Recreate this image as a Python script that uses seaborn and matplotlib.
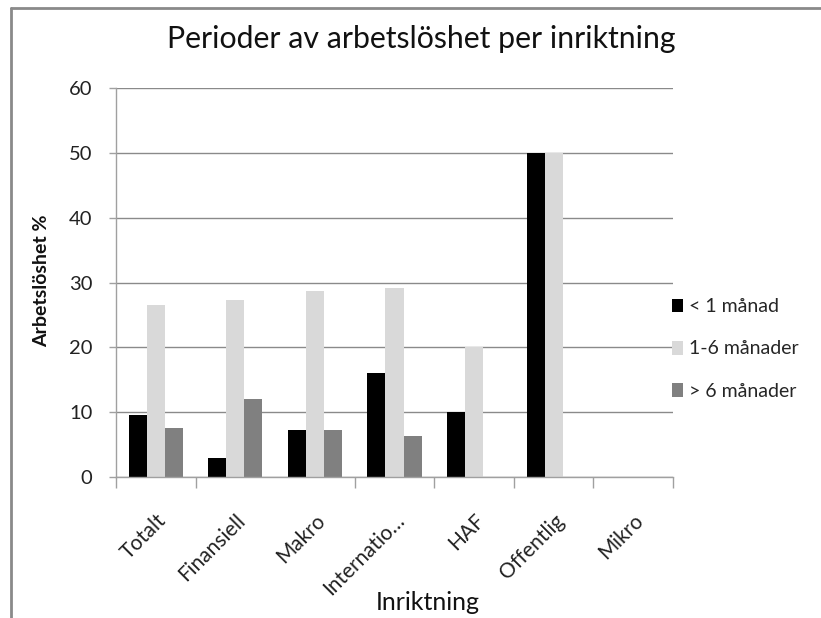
import matplotlib
matplotlib.use("Agg")
import matplotlib.pyplot as plt
import seaborn as sns
import pandas as pd
import numpy as np
from matplotlib.lines import Line2D
from matplotlib.patches import Patch

categories = ["Totalt", "Finansiell", "Makro", "Internatio…", "HAF", "Offentlig", "Mikro"]
series_names = ["< 1 månad", "1-6 månader", "> 6 månader"]
under_1 = [9.5, 3.0, 7.3, 16.1, 10.0, 50.0, 0.0]
one_to_six = [26.6, 27.3, 28.7, 29.1, 20.0, 50.0, 0.0]
over_6 = [7.6, 12.1, 7.3, 6.4, 0.0, 0.0, 0.0]
colors = ["#000000", "#d9d9d9", "#808080"]
yticks = [0, 10, 20, 30, 40, 50, 60]

rows = []
for name, vals in zip(series_names, [under_1, one_to_six, over_6]):
    for c, v in zip(categories, vals):
        rows.append({"Inriktning": c, "Serie": name, "Värde": v})
df = pd.DataFrame(rows)

sns.set_theme(style="white")
plt.rcParams["font.family"] = ["Lato", "DejaVu Sans"]

W, H = 821, 618
fig = plt.figure(figsize=(W / 100, H / 100), dpi=100)
L, R, T, B = 116, 673, 88, 477
ax = fig.add_axes([L / W, 1 - B / H, (R - L) / W, (B - T) / H])

sns.barplot(data=df, x="Inriktning", y="Värde", hue="Serie", order=categories,
            hue_order=series_names, palette=colors, width=0.68, gap=0,
            linewidth=0, edgecolor="none", errorbar=None, ax=ax, legend=False)

ax.set_xlim(-0.5, len(categories) - 0.5)
ax.set_ylim(0, 60)
ax.set_yticks(yticks)
ax.set_yticklabels([str(t) for t in yticks], fontsize=14.5, color="#222222")
ax.yaxis.grid(True, color="#8a8a8a", linewidth=1)
ax.set_axisbelow(True)
for s in ["top", "right"]:
    ax.spines[s].set_visible(False)
for s in ["left", "bottom"]:
    ax.spines[s].set_color("#a0a0a0")
    ax.spines[s].set_linewidth(1)
ax.tick_params(axis="y", which="major", length=5, width=1, color="#a0a0a0", left=True, pad=12)

ax.set_xticks(np.arange(len(categories)))
ax.set_xticklabels(categories, rotation=45, ha="right", rotation_mode="anchor",
                   fontsize=15, color="#222222")
ax.tick_params(axis="x", which="major", length=0, pad=24)
boundaries = [b for b in (np.arange(len(categories) + 1) - 0.5) if b != 1.5]
ax.set_xticks(boundaries, minor=True)
ax.tick_params(axis="x", which="minor", length=8, width=1, color="#a0a0a0", bottom=True)

ax.set_xlabel("")
ax.set_ylabel("")
fig.text(42 / W, 1 - 281 / H, "Arbetslöshet %", rotation=90, ha="center", va="center",
         fontsize=14, fontweight="bold", color="#111111")
fig.text(427.5 / W, 1 - 610 / H, "Inriktning", ha="center", va="baseline",
         fontsize=18, color="#111111")
fig.text(421 / W, 1 - 48 / H, "Perioder av arbetslöshet per inriktning",
         ha="center", va="baseline", fontsize=21.8, color="#111111")

handles = [Patch(facecolor=c, edgecolor="none") for c in colors]
fig.legend(handles, series_names, loc="center left", bbox_to_anchor=(672 / W, 1 - 349 / H),
           frameon=False, fontsize=14, handlelength=0.55, handleheight=0.7,
           handletextpad=0.3, labelspacing=1.3, borderaxespad=0, borderpad=0)

fig.add_artist(Line2D([11 / W, 11 / W], [0, 1 - 8 / H], transform=fig.transFigure,
                      color="#8a8a8a", linewidth=2))
fig.add_artist(Line2D([11 / W, 1], [1 - 8 / H, 1 - 8 / H], transform=fig.transFigure,
                      color="#8a8a8a", linewidth=2))

fig.savefig("out.png", dpi=100)
